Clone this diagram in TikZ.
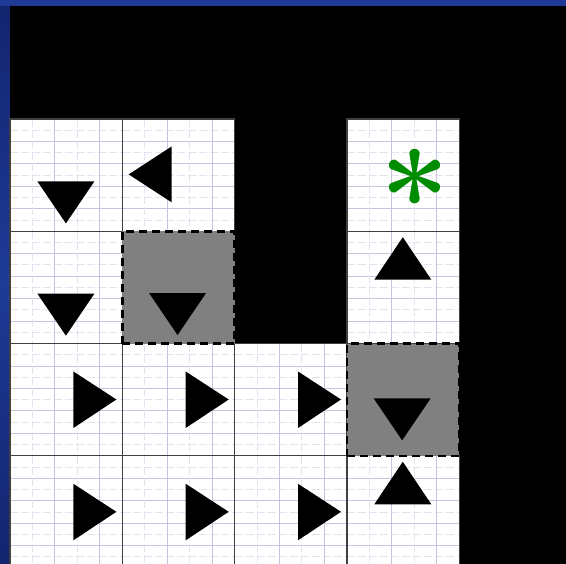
\documentclass[tikz,border=0pt]{standalone}
\usetikzlibrary{calc}
\definecolor{bgblue}{RGB}{30,58,150}
\definecolor{bgblueB}{RGB}{18,36,110}
\definecolor{gridmaj}{RGB}{196,198,224}
\definecolor{gridmin}{RGB}{226,226,240}
\definecolor{cellgray}{RGB}{128,128,128}
\definecolor{stargreen}{RGB}{0,140,0}
\newcommand\cs{112.3}
\tikzset{
  gmaj/.style={gridmaj,line width=1pt},
  gmin/.style={gridmin,line width=1pt,dash pattern=on 8pt off 3pt},
  whitecell/.style={rectangle,minimum width=\cs pt,minimum height=\cs pt,inner sep=0pt,
    fill=white,draw=black!75,line width=1.2pt,
    path picture={
      \foreach \i in {1,...,9}{%
        \ifodd\i
          \draw[gmin] ($(path picture bounding box.north west)+(0,\i*11.23)$) -- ++(\cs,0);
        \else
          \draw[gmaj] ($(path picture bounding box.north west)+(0,\i*11.23)$) -- ++(\cs,0);
        \fi}
      \foreach \i in {1,...,4}{%
        \ifodd\i
          \draw[gmin] ($(path picture bounding box.north west)+(\i*22.46,0)$) -- ++(0,\cs);
        \else
          \draw[gmaj] ($(path picture bounding box.north west)+(\i*22.46,0)$) -- ++(0,\cs);
        \fi}
    }},
  graycell/.style={rectangle,minimum width=\cs pt,minimum height=\cs pt,inner sep=0pt,
    fill=cellgray,draw=black,line width=2.5pt,dash pattern=on 8pt off 5pt},
  tri/.style={fill=black}
}
\newcommand\tridown[2][0]{\fill[tri] ($(#2.north west)+(28,63-#1)$) -- ($(#2.north west)+(85,63-#1)$) -- ($(#2.north west)+(56.5,105-#1)$) -- cycle;}
\newcommand\triup[1]{\fill[tri] ($(#1.north west)+(28,49)$) -- ($(#1.north west)+(85,49)$) -- ($(#1.north west)+(56.5,6.5)$) -- cycle;}
\newcommand\trileft[1]{\fill[tri] ($(#1.north west)+(50,28)$) -- ($(#1.north west)+(50,84)$) -- ($(#1.north west)+(7,56)$) -- cycle;}
\newcommand\triright[1]{\fill[tri] ($(#1.north west)+(64,28.5)$) -- ($(#1.north west)+(64,85)$) -- ($(#1.north west)+(107,56.5)$) -- cycle;}
\begin{document}
\begin{tikzpicture}[x=1pt,y=-1pt]
\useasboundingbox (0,0) rectangle (566,564);
\shade[top color=bgblueB,bottom color=bgblueB,middle color=bgblue] (0,0) rectangle (566,564);
\fill[bgblue] (0,0) rectangle (566,6);
\fill[black] (10,6) rectangle (566,564);
% row 0
\node[whitecell] (c00) at ({10+0.5*\cs},{119+0.5*\cs}) {};
\node[whitecell] (c10) at ({10+1.5*\cs},{119+0.5*\cs}) {};
\node[whitecell] (c30) at ({10+3.5*\cs},{119+0.5*\cs}) {};
% row 1
\node[whitecell] (c01) at ({10+0.5*\cs},{119+1.5*\cs}) {};
\node[whitecell] (c31) at ({10+3.5*\cs},{119+1.5*\cs}) {};
% row 2
\node[whitecell] (c02) at ({10+0.5*\cs},{119+2.5*\cs}) {};
\node[whitecell] (c12) at ({10+1.5*\cs},{119+2.5*\cs}) {};
\node[whitecell] (c22) at ({10+2.5*\cs},{119+2.5*\cs}) {};
% row 3
\node[whitecell] (c03) at ({10+0.5*\cs},{119+3.5*\cs}) {};
\node[whitecell] (c13) at ({10+1.5*\cs},{119+3.5*\cs}) {};
\node[whitecell] (c23) at ({10+2.5*\cs},{119+3.5*\cs}) {};
\node[whitecell] (c33) at ({10+3.5*\cs},{119+3.5*\cs}) {};
% gray cells
\node[graycell] (c11) at ({10+1.5*\cs},{119+1.5*\cs}) {};
\node[graycell] (c32) at ({10+3.5*\cs},{119+2.5*\cs}) {};
% arrows
\tridown{c00}
\trileft{c10}
\tridown{c01}
\tridown{c11}
\triup{c31}
\triright{c02}
\triright{c12}
\triright{c22}
\tridown[7]{c32}
\triright{c03}
\triright{c13}
\triright{c23}
\triup{c33}
% goal
\node[text=stargreen,inner sep=0pt,anchor=north,font=\fontsize{123}{123}\selectfont\bfseries] (goal) at (415,149) {*};
\end{tikzpicture}
\end{document}
